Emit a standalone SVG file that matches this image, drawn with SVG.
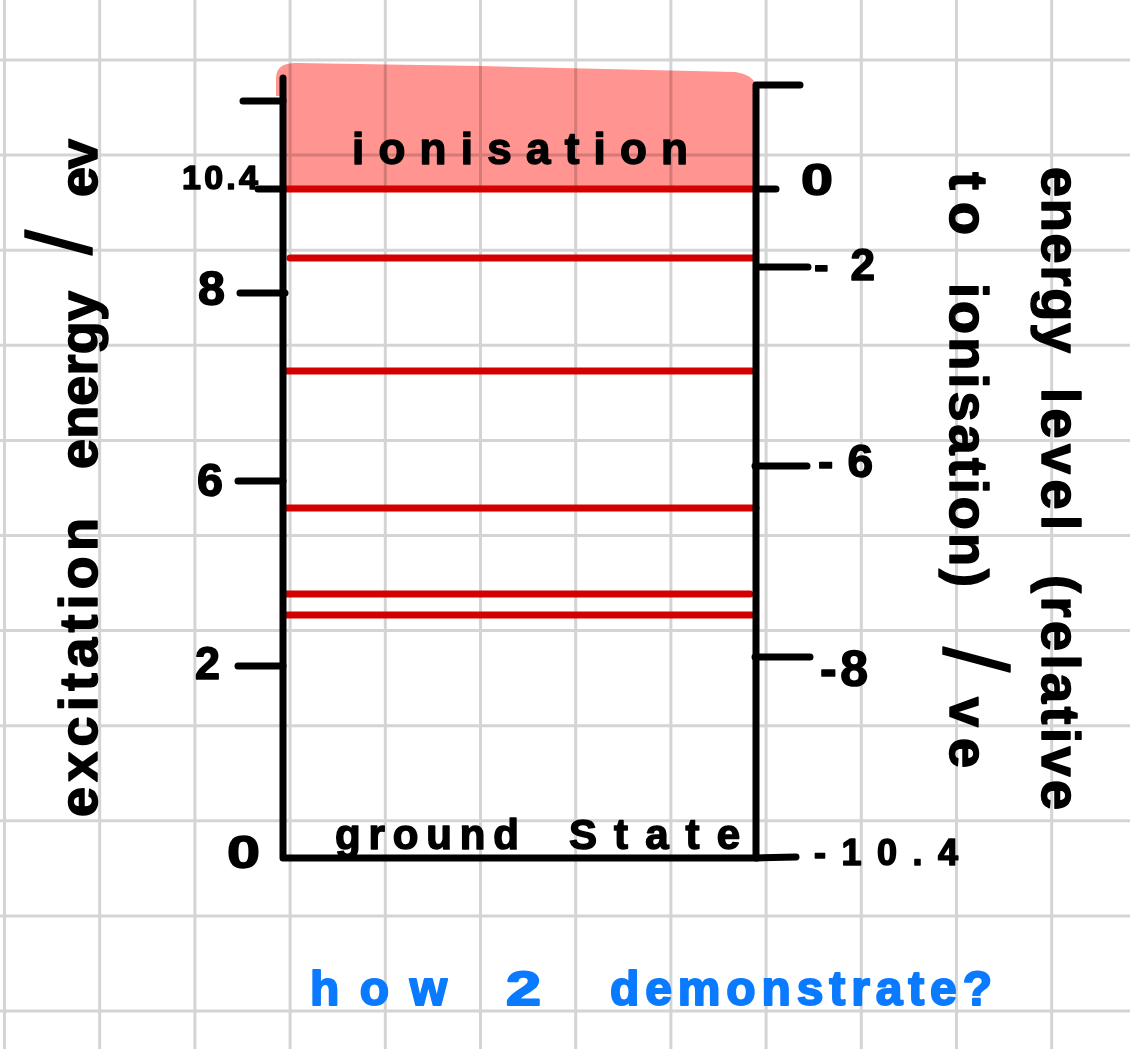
<svg xmlns="http://www.w3.org/2000/svg" width="1130" height="1049" viewBox="0 0 1130 1049">
<style>
.grid line{stroke:#d4d4d4;stroke-width:3}
.ax{fill:none;stroke:#000;stroke-width:7;stroke-linecap:round;stroke-linejoin:round}
.lvl{stroke:#d40000;stroke-width:7;stroke-linecap:round}
.t{font-family:"Liberation Sans",Arial,sans-serif;font-weight:bold;fill:#000;stroke:#000;stroke-width:1.5;stroke-linejoin:round}
.n{font-family:"Liberation Sans",Arial,sans-serif;font-weight:bold;fill:#000;stroke:#000;stroke-width:1.5;stroke-linejoin:round}
.b{font-family:"Liberation Sans",Arial,sans-serif;font-weight:bold;fill:#0a7aff;stroke:#0a7aff;stroke-width:2;stroke-linejoin:round}
.sl{font-weight:normal}
</style>
<rect width="1130" height="1049" fill="#fff"/>
<g id="grid" class="grid">
<line x1="4.5" y1="0" x2="4.5" y2="1049"/>
<line x1="99.7" y1="0" x2="99.7" y2="1049"/>
<line x1="194.9" y1="0" x2="194.9" y2="1049"/>
<line x1="290.1" y1="0" x2="290.1" y2="1049"/>
<line x1="385.3" y1="0" x2="385.3" y2="1049"/>
<line x1="480.5" y1="0" x2="480.5" y2="1049"/>
<line x1="575.7" y1="0" x2="575.7" y2="1049"/>
<line x1="670.9" y1="0" x2="670.9" y2="1049"/>
<line x1="766.1" y1="0" x2="766.1" y2="1049"/>
<line x1="861.3" y1="0" x2="861.3" y2="1049"/>
<line x1="956.5" y1="0" x2="956.5" y2="1049"/>
<line x1="1051.7" y1="0" x2="1051.7" y2="1049"/>
<line x1="0" y1="60" x2="1130" y2="60"/>
<line x1="0" y1="155.1" x2="1130" y2="155.1"/>
<line x1="0" y1="250.2" x2="1130" y2="250.2"/>
<line x1="0" y1="345.3" x2="1130" y2="345.3"/>
<line x1="0" y1="440.4" x2="1130" y2="440.4"/>
<line x1="0" y1="535.5" x2="1130" y2="535.5"/>
<line x1="0" y1="630.6" x2="1130" y2="630.6"/>
<line x1="0" y1="725.7" x2="1130" y2="725.7"/>
<line x1="0" y1="820.8" x2="1130" y2="820.8"/>
<line x1="0" y1="915.9" x2="1130" y2="915.9"/>
<line x1="0" y1="1011" x2="1130" y2="1011"/>
</g>
<g id="ionisation-region">
<path d="M276,96 L276,78 Q276,63 296,63 L480,66 L735,72 Q752,74 757,86 L757,189 L285,189 L285,96 Z" fill="#ff9490" style="mix-blend-mode:multiply"/>
<text class="t" x="352" y="164" font-size="44" textLength="336" lengthAdjust="spacing">ionisation</text>
</g>
<g id="levels">
<line class="lvl" x1="285" y1="189" x2="755" y2="189"/>
<line class="lvl" x1="290" y1="258" x2="755" y2="258"/>
<line class="lvl" x1="287" y1="371" x2="752" y2="371"/>
<line class="lvl" x1="287" y1="508" x2="756" y2="508"/>
<line class="lvl" x1="287" y1="594" x2="750" y2="594"/>
<line class="lvl" x1="287" y1="615" x2="752" y2="615"/>
</g>
<g id="left-axis">
<path class="ax" d="M283,78 L283,858 L757,858"/>
<path class="ax" d="M243,101 H283 M258,189 H283 M240,293 H285 M238,481 H283 M238,666 H283"/>
<text class="n" x="182" y="189" font-size="34" textLength="76" lengthAdjust="spacing">10.4</text>
<text class="n" x="198" y="305" font-size="48" textLength="27" lengthAdjust="spacingAndGlyphs">8</text>
<text class="n" x="197" y="496" font-size="46" textLength="26" lengthAdjust="spacingAndGlyphs">6</text>
<text class="n" x="195" y="679" font-size="46" textLength="25" lengthAdjust="spacingAndGlyphs">2</text>
<text class="n" x="227" y="868" font-size="46" textLength="33" lengthAdjust="spacingAndGlyphs">0</text>
</g>
<g id="right-axis">
<path class="ax" d="M800,85 L756,85 L756,858 L796,857"/>
<path class="ax" d="M756,189 H776 M757,267 H808 M755,466 H807 M755,657 H810"/>
<text class="n" x="801" y="195" font-size="44" textLength="32" lengthAdjust="spacingAndGlyphs">0</text>
<text class="n" x="814" y="280" font-size="44" textLength="61" lengthAdjust="spacing">-2</text>
<text class="n" x="818" y="477" font-size="46" textLength="55" lengthAdjust="spacing">-6</text>
<text class="n" x="820" y="686" font-size="50" textLength="48" lengthAdjust="spacing">-8</text>
<text class="n" x="814" y="865" font-size="36" textLength="144" lengthAdjust="spacing">-10.4</text>
</g>
<g id="ground-state">
<text class="t" y="849" font-size="42"><tspan x="335" textLength="184" lengthAdjust="spacing">ground</tspan> <tspan x="569" textLength="171" lengthAdjust="spacing">State</tspan></text>
</g>
<g id="left-label">
<text class="t" font-size="54" transform="translate(97,817) rotate(-90)"><tspan x="0" textLength="299" lengthAdjust="spacing">excitation</tspan> <tspan x="348" textLength="178" lengthAdjust="spacing">energy</tspan> <tspan class="sl" x="562" dy="-6" font-size="90">/</tspan><tspan x="620" dy="6" textLength="58" lengthAdjust="spacing">ev</tspan></text>
</g>
<g id="right-label">
<text class="t" font-size="54" transform="translate(1042,167) rotate(90)"><tspan x="0" textLength="186" lengthAdjust="spacing">energy</tspan> <tspan x="221" textLength="142" lengthAdjust="spacing">level</tspan> <tspan x="408" textLength="235" lengthAdjust="spacing">(relative</tspan></text>
<text class="t" font-size="54" transform="translate(950,172) rotate(90)"><tspan x="0" textLength="63" lengthAdjust="spacing">to</tspan> <tspan x="111" textLength="304" lengthAdjust="spacing">ionisation)</tspan> <tspan class="sl" x="475" dy="6" font-size="90">/</tspan><tspan x="525" dy="-6" textLength="71" lengthAdjust="spacing">ve</tspan></text>
</g>
<g id="note">
<text class="b" y="1005" font-size="48"><tspan x="310" textLength="137" lengthAdjust="spacing">how</tspan> <tspan x="506" textLength="35" lengthAdjust="spacingAndGlyphs">2</tspan> <tspan x="610" textLength="382" lengthAdjust="spacing">demonstrate?</tspan></text>
</g>
</svg>
